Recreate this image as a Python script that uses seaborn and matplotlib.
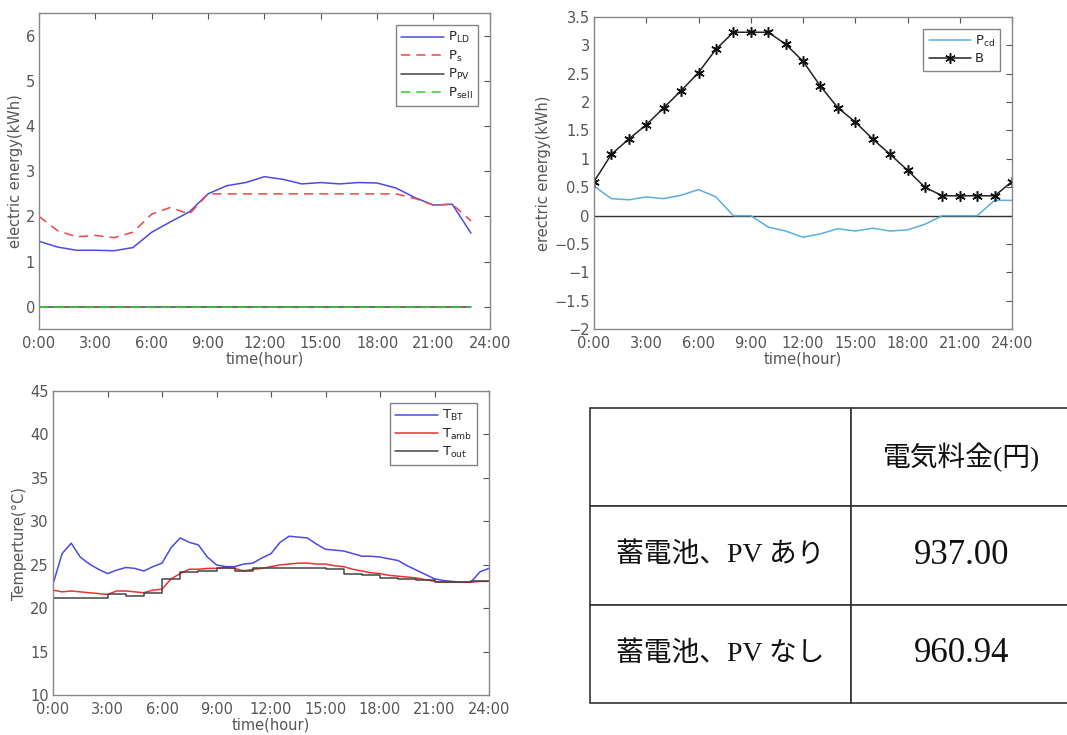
import numpy as np
import pandas as pd
import matplotlib
matplotlib.use("Agg")
import matplotlib.pyplot as plt
import seaborn as sns

# ---- data ----
hours = list(range(24))
p_ld = [1.45, 1.32, 1.25, 1.25, 1.24, 1.31, 1.65, 1.88, 2.10, 2.50, 2.68, 2.75,
        2.88, 2.82, 2.72, 2.75, 2.72, 2.75, 2.74, 2.63, 2.42, 2.25, 2.27, 1.63]
p_s = [2.00, 1.68, 1.55, 1.58, 1.53, 1.65, 2.05, 2.20, 2.05, 2.50, 2.50, 2.50,
       2.50, 2.50, 2.50, 2.50, 2.50, 2.50, 2.50, 2.50, 2.40, 2.25, 2.27, 1.90]
p_pv = [0.0] * 24
p_sell = [0.0] * 24

hours25 = list(range(25))
p_cd = [0.52, 0.30, 0.28, 0.33, 0.30, 0.36, 0.46, 0.33, 0.00, 0.00, -0.20, -0.27,
        -0.38, -0.32, -0.23, -0.27, -0.22, -0.27, -0.25, -0.15, 0.00, 0.00, 0.00, 0.27, 0.27]
batt = [0.60, 1.08, 1.35, 1.60, 1.90, 2.20, 2.52, 2.93, 3.23, 3.23, 3.23, 3.02,
        2.72, 2.28, 1.90, 1.65, 1.35, 1.08, 0.80, 0.50, 0.35, 0.35, 0.35, 0.35, 0.60]

half_hours = [h / 2 for h in range(49)]
t_bt = [22.8, 26.3, 27.5, 25.9, 25.1, 24.5, 24.0, 24.4, 24.7, 24.6, 24.3, 24.8,
        25.2, 27.0, 28.1, 27.6, 27.3, 25.9, 25.0, 24.8, 24.8, 25.1, 25.2, 25.8,
        26.3, 27.6, 28.3, 28.2, 28.1, 27.4, 26.8, 26.7, 26.6, 26.3, 26.0, 26.0,
        25.9, 25.7, 25.5, 24.9, 24.4, 23.9, 23.4, 23.2, 23.1, 23.0, 23.0, 24.2, 24.6]
t_amb = [22.1, 21.9, 22.0, 21.9, 21.8, 21.7, 21.6, 22.0, 22.0, 21.9, 21.8, 22.1,
         22.2, 23.4, 24.0, 24.5, 24.5, 24.6, 24.6, 24.7, 24.6, 24.3, 24.5, 24.6,
         24.8, 25.0, 25.1, 25.2, 25.2, 25.1, 25.1, 24.9, 24.8, 24.5, 24.3, 24.1,
         24.0, 23.8, 23.7, 23.6, 23.5, 23.3, 23.1, 23.0, 23.0, 23.0, 23.0, 23.1, 23.1]
t_out = [21.2, 21.2, 21.2, 21.7, 21.4, 21.8, 23.4, 24.2, 24.3, 24.7, 24.3, 24.6,
         24.7, 24.7, 24.7, 24.5, 24.0, 23.8, 23.5, 23.4, 23.3, 23.0, 23.0, 23.2, 23.2]

time_ticks = list(range(0, 25, 3))
time_labels = [f"{h}:00" for h in time_ticks]

table_header = ["", "電気料金(円)"]
table_rows = [["蓄電池、PV あり", "937.00"],
              ["蓄電池、PV なし", "960.94"]]

# ---- style ----
sns.set_style("white")
plt.rcParams["font.family"] = ["DejaVu Sans", "Noto Sans CJK JP"]
grey = "#555555"
plt.rcParams.update({
    "axes.edgecolor": "#888888",
    "axes.labelcolor": grey,
    "xtick.color": grey,
    "ytick.color": grey,
    "font.size": 10,
})


def style_axes(ax, ylim, yticks, ylabel):
    ax.set_xlim(0, 24)
    ax.set_ylim(*ylim)
    ax.set_xticks(time_ticks)
    ax.set_xticklabels(time_labels)
    ax.set_yticks(yticks)
    ax.tick_params(direction="in", top=True, right=True, length=4,
                   width=0.8, labelsize=10.5)
    ax.tick_params(axis="x", pad=5)
    ax.tick_params(axis="y", pad=3)
    ax.set_xlabel("time(hour)", fontsize=10.5, labelpad=0)
    ax.set_ylabel(ylabel, fontsize=10.5, labelpad=2)
    for sp in ax.spines.values():
        sp.set_linewidth(1.0)


def box_legend(ax):
    leg = ax.legend(loc="upper right", fontsize=9.5, frameon=True, fancybox=False,
                    handlelength=3.2, labelspacing=0.25, borderpad=0.4,
                    handletextpad=0.3, borderaxespad=0.9)
    leg.get_frame().set_edgecolor("#666666")
    leg.get_frame().set_linewidth(1.0)


fig = plt.figure(figsize=(10.67, 7.35), dpi=100)

# ---- top-left: load / supply ----
ax1 = fig.add_axes([0.0366, 0.552, 0.4224, 0.430])
sns.lineplot(x=hours, y=p_ld, ax=ax1, color="#4a4ae6", linewidth=1.1, label=r"P$_{\rm LD}$")
sns.lineplot(x=hours, y=p_s, ax=ax1, color="#f04545", linewidth=1.1, linestyle=(0, (6, 4)),
             label=r"P$_{\rm s}$")
sns.lineplot(x=hours, y=p_pv, ax=ax1, color="#444444", linewidth=1.1, label=r"P$_{\rm PV}$")
sns.lineplot(x=hours, y=p_sell, ax=ax1, color="#33cc33", linewidth=1.1, linestyle=(0, (6, 4)),
             label=r"P$_{\rm sell}$")
style_axes(ax1, (-0.5, 6.5), range(0, 7), "electric energy(kWh)")
box_legend(ax1)

# ---- top-right: charge/discharge and battery ----
ax2 = fig.add_axes([0.5567, 0.552, 0.3918, 0.425])
ax2.axhline(0, color="#333333", linewidth=1.0, zorder=1)
sns.lineplot(x=hours25, y=p_cd, ax=ax2, color="#5aaee3", linewidth=1.1, label=r"P$_{\rm cd}$")
sns.lineplot(x=hours25, y=batt, ax=ax2, color="#222222", linewidth=1.1, marker=(6, 2, 0),
             markersize=7.5, markeredgewidth=1.1, markeredgecolor="#111111", label="B")
style_axes(ax2, (-2, 3.5), np.arange(-2, 3.6, 0.5), "erectric energy(kWh)")
ax2.set_yticklabels([f"{v:g}".replace("-", "\u2212") for v in np.arange(-2, 3.6, 0.5)])
box_legend(ax2)

# ---- bottom-left: temperatures ----
ax3 = fig.add_axes([0.0497, 0.054, 0.4086, 0.414])
sns.lineplot(x=half_hours, y=t_bt, ax=ax3, color="#4a4ae6", linewidth=1.1, label=r"T$_{\rm BT}$")
sns.lineplot(x=half_hours, y=t_amb, ax=ax3, color="#f03030", linewidth=1.1, label=r"T$_{\rm amb}$")
sns.lineplot(x=hours25, y=t_out, ax=ax3, color="#444444", linewidth=1.1, drawstyle="steps-post",
             label=r"T$_{\rm out}$")
style_axes(ax3, (10, 45), range(10, 46, 5), "Temperture(\u00b0C)")
box_legend(ax3)

# ---- bottom-right: cost table ----
ax4 = fig.add_axes([0.553, 0.0435, 0.4527, 0.4015])
ax4.axis("off")
tbl = ax4.table(cellText=[table_header] + table_rows, cellLoc="center",
                colWidths=[0.54, 0.46], bbox=[0, 0, 1, 1])
tbl.auto_set_font_size(False)
for (r, c), cell in tbl.get_celld().items():
    cell.set_edgecolor("#333333")
    cell.set_linewidth(1.2)
    txt = cell.get_text()
    txt.set_family(["Liberation Serif", "Noto Sans CJK JP"])
    txt.set_color("#111111")
    if r > 0 and c == 1:
        txt.set_fontsize(25)
    else:
        txt.set_fontsize(20)

fig.savefig("out.png", dpi=100)
